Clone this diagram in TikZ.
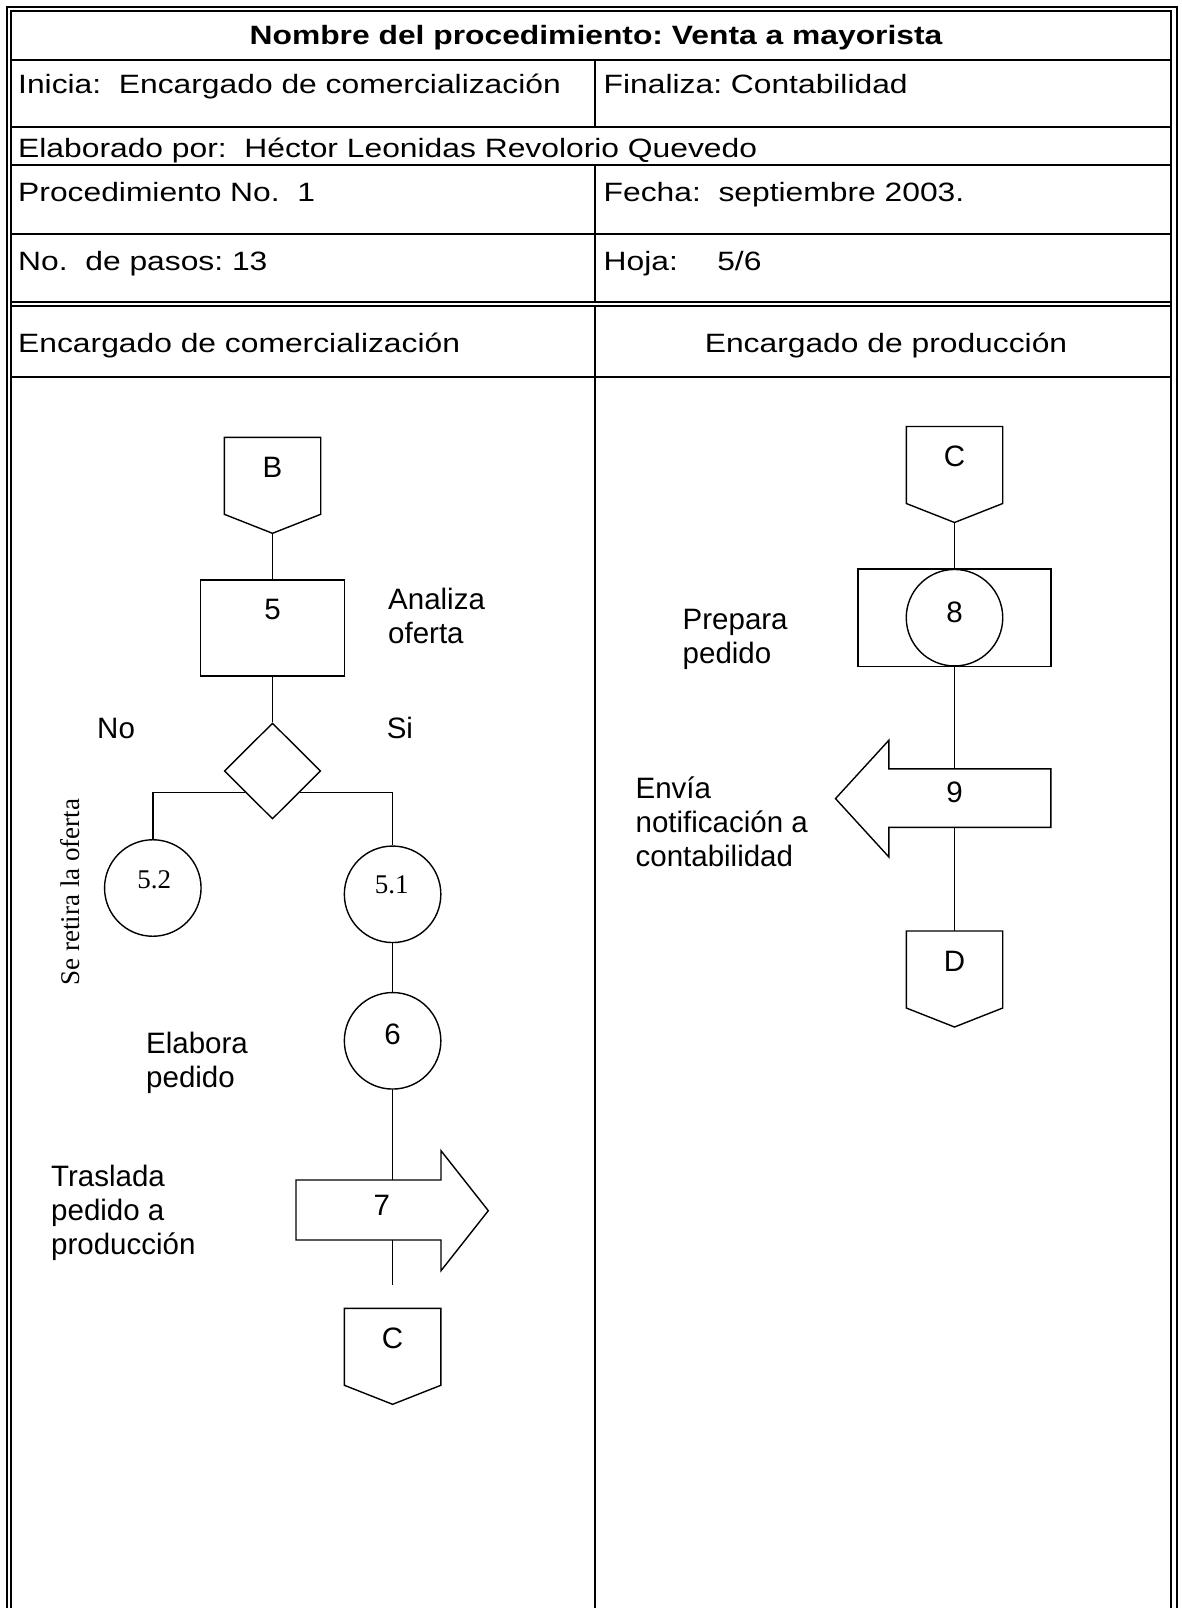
\documentclass[tikz,border=0pt]{standalone}
\usepackage{fontspec}
\setmainfont{Liberation Sans}
\newfontfamily\hdrfont[FakeStretch=1.2]{Liberation Sans}
\newfontfamily\serffont{Liberation Serif}
\usetikzlibrary{shapes.geometric,calc}
\frenchspacing

% off-page connector: #1 name, #2 x of centre, #3 y of top edge, #4 letter
\newcommand\offpage[4]{%
  \draw[shp] (#2-48.2,#3) -- (#2+48.2,#3) -- (#2+48.2,#3+77) -- (#2,#3+96)
             -- (#2-48.2,#3+77) -- cycle;
  \coordinate (#1-top) at (#2,#3);
  \coordinate (#1-tip) at (#2,#3+96);
  \node[sym] (#1-txt) at (#2,#3+30) {#4};
}

\begin{document}
\begin{tikzpicture}[x=1pt,y=-1pt,
  tbl/.style={line width=2pt},
  frame/.style={line width=1.5pt},
  shp/.style={draw,line width=1.4pt,fill=white},
  wire/.style={line width=1.4pt},
  hdr/.style={inner sep=0pt,anchor=base west,font=\hdrfont\fontsize{26.5}{30}\selectfont},
  lbl/.style={inner sep=0pt,anchor=base west,align=left,font=\fontsize{29.5}{34}\selectfont},
  sym/.style={inner sep=0pt,font=\fontsize{29.5}{34}\selectfont},
  num/.style={inner sep=0pt,font=\serffont\fontsize{27}{30}\selectfont},
  circ/.style={shp,circle,minimum size=96.5pt,inner sep=0pt},
]
\useasboundingbox (0,0) rectangle (1181,1608);
\fill[white] (0,0) rectangle (1181,1608);

% ---- form frame ----
\draw[frame] (7,1608) -- (7,7) -- (1177,7) -- (1177,1608);
\draw[frame] (11,1608) -- (11,11) -- (1171,11) -- (1171,1608);
\foreach \yy in {60,127,165,234,377} \draw[tbl] (11,\yy) -- (1171,\yy);
\foreach \yy in {302,306} \draw[frame] (11,\yy) -- (1171,\yy);
\draw[tbl] (595,60) -- (595,127);
\draw[tbl] (595,165) -- (595,302);
\draw[tbl] (595,306) -- (595,1608);

% ---- header texts ----
\node[hdr,anchor=base,font=\hdrfont\bfseries\fontsize{26.5}{30}\selectfont] (title) at (596,44.3)
  {Nombre del procedimiento: Venta a mayorista};
\node[hdr] (inicia) at (18,94) {Inicia:\ \ Encargado de comercialización};
\node[hdr] (finaliza) at (603.5,94) {Finaliza: Contabilidad};
\node[hdr] (elab) at (18,157.5) {Elaborado por:\ \ Héctor Leonidas Revolorio Quevedo};
\node[hdr] (proc) at (18,202) {Procedimiento No.\ \ 1};
\node[hdr] (fecha) at (603.5,202) {Fecha:\ \ septiembre 2003.};
\node[hdr] (pasos) at (18,270) {No.\ \ de pasos: 13};
\node[hdr] (hoja) at (603.5,270) {Hoja:\ \ \ \ \hspace{4pt}5/6};
\node[hdr] (lane1) at (18,352) {Encargado de comercialización};
\node[hdr,anchor=base] (lane2) at (886,352) {Encargado de producción};

% ---- left lane: comercialización ----
\offpage{B}{272.5}{437.3}{B}
\node[shp,minimum width=144pt,minimum height=96pt,inner sep=0pt] (r5) at (272.5,628) {};
\node[sym] (r5tx) at (272.5,609.5) {5};
\node[shp,diamond,minimum width=96.4pt,minimum height=96pt,inner sep=0pt] (dia) at (272.5,771) {};
\node[circ] (c52) at (152.8,888) {};
\node[num] (t52) at (154.3,880) {5.2};
\node[circ] (c51) at (392.6,894.3) {};
\node[num] (t51) at (391.7,885) {5.1};
\node[circ] (c6) at (392.6,1040.8) {};
\node[sym] (t6) at (392.6,1034) {6};

% transport arrow 7
\draw[shp] (296,1180) -- (441,1180) -- (441,1150.7) -- (488.3,1210.7)
           -- (441,1270.7) -- (441,1240) -- (296,1240) -- cycle;
\coordinate (a7-top) at (392.6,1180);
\coordinate (a7-bot) at (392.6,1240);
\coordinate (a7-end) at (392.6,1285);
\node[sym] (t7) at (381.7,1205) {7};

\offpage{C1}{392.6}{1308.3}{C}

% left lane labels (anchored at the baseline of their last line)
\node[lbl] (lab5) at (388,643) {Analiza\\oferta};
\node[lbl] (labno) at (97,738) {No};
\node[lbl] (labsi) at (386.6,738) {Si};
\node[lbl] (lab6) at (146,1087) {Elabora\\pedido};
\node[lbl] (lab7) at (51,1254.5) {Traslada\\pedido a\\producción};
\node[num,rotate=90,anchor=base] (lab52) at (79,892) {Se retira la oferta};

% left lane connectors
\draw[wire] (B-tip) -- (r5.north);
\draw[wire] (r5.south) -- (dia.north);
\coordinate (dl) at ($(dia.west)!0.444!(dia.south)$);
\coordinate (dr) at ($(dia.east)!0.444!(dia.south)$);
\draw[wire] (dl) -| (c52.north);
\draw[wire] (dr) -| (c51.north);
\draw[wire] (c51.south) -- (c6.north);
\draw[wire] (c6.south) -- (a7-top);
\draw[wire] (a7-bot) -- (a7-end);

% ---- right lane: producción ----
\offpage{C2}{954.5}{426.5}{C}
\node[shp,minimum width=192.8pt,minimum height=97.4pt,inner sep=0pt] (r8) at (954.5,617.7) {};
\node[circ] (c8) at (954.5,617.7) {};
\node[sym] (t8) at (954.5,612) {8};

% transport arrow 9
\draw[shp] (1050.9,768.9) -- (888.9,768.9) -- (888.9,740.2) -- (835.5,798.6)
           -- (888.9,857) -- (888.9,827.3) -- (1050.9,827.3) -- cycle;
\coordinate (a9-top) at (954.5,768.9);
\coordinate (a9-bot) at (954.5,827.3);
\node[sym] (t9) at (954.5,792.5) {9};

\offpage{D}{954.5}{931}{D}

\node[lbl] (lab8) at (682.5,663.6) {Prepara\\pedido};
\node[lbl] (lab9) at (635.4,866.5) {Envía\\notificación a\\contabilidad};

\draw[wire] (C2-tip) -- (r8.north);
\draw[wire] (r8.south) -- (a9-top);
\draw[wire] (a9-bot) -- (D-top);
\end{tikzpicture}
\end{document}
